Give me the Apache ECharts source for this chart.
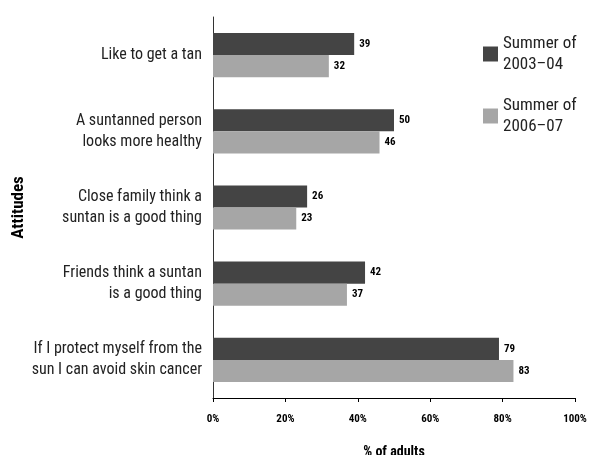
<!DOCTYPE html>
<html>
<head>
<meta charset="utf-8">
<script src="https://cdn.jsdelivr.net/npm/echarts@6/dist/echarts.min.js"></script>
<style>
  html, body { margin: 0; padding: 0; background: #fff; }
  #chart { width: 590px; height: 455px; }
</style>
</head>
<body>
<div id="chart"></div>
<script>
// Datos del gráfico
const categories = [
    'Like to get a tan',
    'A suntanned person\nlooks more healthy',
    'Close family think a\nsuntan is a good thing',
    'Friends think a suntan\nis a good thing',
    'If I protect myself from the\nsun I can avoid skin cancer'
];
const summer0304 = [39, 50, 26, 42, 79];
const summer0607 = [32, 46, 23, 37, 83];
const seriesNames = ['Summer of\n2003\u201304', 'Summer of\n2006\u201307'];
const xTicks = [0, 20, 40, 60, 80, 100];

const font = '"Liberation Sans Narrow", "Roboto Condensed", "Arial Narrow", Roboto, sans-serif';

const chart = echarts.init(document.getElementById('chart'));

const valueLabel = {
    show: true,
    position: 'right',
    distance: 5,
    color: '#000',
    fontFamily: font,
    fontWeight: 'bold',
    fontSize: 11
};

chart.setOption({
    animation: false,
    textStyle: { fontFamily: font },
    grid: { left: 213, right: 15, top: 17, height: 381, outerBoundsMode: 'none', containLabel: false },
    legend: {
        orient: 'vertical',
        left: 478,
        top: 28,
        itemWidth: 15,
        itemHeight: 15,
        itemGap: 20,
        icon: 'rect',
        textStyle: { fontFamily: font, fontSize: 17, lineHeight: 21, color: '#222' },
        data: seriesNames
    },
    xAxis: {
        type: 'value',
        min: 0,
        max: 100,
        interval: 20,
        name: '% of adults',
        nameLocation: 'middle',
        nameGap: 47,
        nameMoveOverlap: false,
        nameTextStyle: { fontFamily: font, fontWeight: 'bold', fontSize: 14, color: '#000' },
        axisLine: { show: true, lineStyle: { color: '#000', width: 1 } },
        axisTick: { show: true, length: 4, lineStyle: { color: '#000' } },
        splitLine: { show: false },
        axisLabel: {
            margin: 16,
            fontFamily: font,
            fontWeight: 'bold',
            fontSize: 11,
            color: '#000',
            formatter: v => xTicks.includes(v) ? v + '%' : ''
        }
    },
    yAxis: {
        type: 'category',
        inverse: true,
        data: categories,
        name: 'Attitudes',
        nameLocation: 'middle',
        nameRotate: 90,
        nameGap: 186,
        nameMoveOverlap: false,
        nameTextStyle: { fontFamily: font, fontWeight: 'bold', fontSize: 17, color: '#000' },
        axisLine: { show: true, lineStyle: { color: '#333', width: 1 } },
        axisTick: { show: false },
        axisLabel: {
            margin: 11,
            fontFamily: font,
            fontSize: 16,
            lineHeight: 21,
            color: '#222',
            align: 'right'
        }
    },
    series: [
        {
            name: seriesNames[0],
            type: 'bar',
            data: summer0304,
            barGap: '0%',
            barCategoryGap: '42%',
            itemStyle: { color: '#444444' },
            label: valueLabel
        },
        {
            name: seriesNames[1],
            type: 'bar',
            data: summer0607,
            itemStyle: { color: '#a6a6a6' },
            label: valueLabel
        }
    ]
});
</script>
</body>
</html>
